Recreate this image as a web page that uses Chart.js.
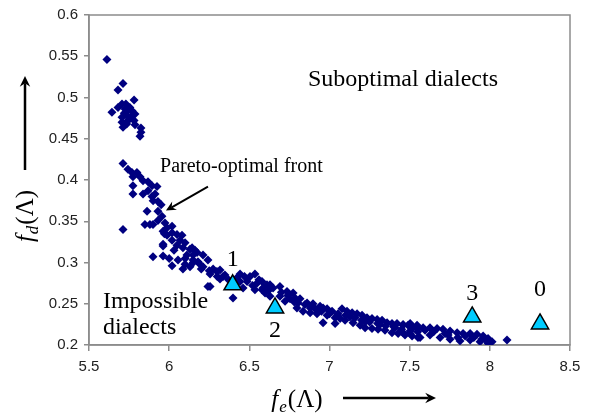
<!DOCTYPE html>
<html><head><meta charset="utf-8">
<script src="https://cdn.jsdelivr.net/npm/chart.js@4/dist/chart.umd.min.js"></script>
<style>html,body{margin:0;padding:0;background:#fff}#wrap{width:595px;height:418px}</style>
</head><body><div id="wrap"><canvas id="c" width="595" height="418"></canvas></div>
<script>
const xTicks=[5.5,6,6.5,7,7.5,8,8.5];
const yTicks=[0.2,0.25,0.3,0.35,0.4,0.45,0.5,0.55,0.6];
// simulated dialects (diamonds)
const dialectX=[
5.612,5.712,5.681,5.781,5.706,5.681,5.643,5.725,5.743,5.768,5.737,5.768,5.787,5.706,5.706,5.743,5.781,5.712,5.787,5.824,5.824,5.818,5.730,5.755,5.720,5.760,5.735,
5.712,5.743,5.768,5.799,5.818,5.774,5.837,5.868,5.893,5.924,5.774,5.774,5.837,5.868,5.912,5.893,5.930,5.862,5.930,5.955,5.930,5.974,5.849,5.880,5.899,5.987,5.712,5.962,6.018,6.018,6.049,5.987,5.962,6.018,6.068,6.049,6.086,6.130,6.161,
5.899,5.962,5.962,6.018,6.055,6.086,6.130,6.149,6.180,6.211,6.255,6.255,6.298,6.317,6.348,6.442,6.486,6.548,6.585,6.629,
6.080,6.099,6.143,6.174,6.211,6.111,6.149,6.099,6.192,6.242,6.274,6.317,6.336,6.242,6.442,6.461,6.398,6.579,6.610,6.648,6.579,6.691,6.735,6.773,6.629,6.691,6.754,6.804,6.504,6.535,6.723,6.598,6.535,
6.785,6.816,6.860,6.897,6.941,6.960,6.985,7.016,7.078,7.109,7.141,7.172,7.203,7.234,7.265,7.297,7.328,7.359,7.390,7.421,7.459,7.490,7.521,7.552,
6.797,6.835,6.879,6.922,6.985,7.035,7.066,7.097,7.147,7.191,7.222,7.265,7.303,7.346,7.390,7.428,7.471,7.515,7.552,6.960,7.035,
6.847,6.929,7.053,7.128,7.222,7.315,7.409,7.502,
7.459,7.503,7.546,7.584,7.627,7.671,7.708,7.752,7.796,7.833,7.877,7.920,7.958,7.989,8.014,
7.459,7.503,7.565,7.627,7.690,7.752,7.814,7.877,7.939,7.989,8.107,
7.596,7.721,7.846,7.971,
6.30,6.37,6.42,6.47,6.52,6.56,6.62,6.70,6.74,6.78,6.88,6.91,6.95,7.00,7.05,7.10,7.16,7.20,7.25,7.30,7.35,7.40,7.45,7.55,7.65,7.74,7.80,7.90,7.95,
5.95,5.90,5.97,6.03,6.10,6.15,6.20,6.25,6.00];
const dialectY=[
0.546,0.517,0.509,0.497,0.492,0.488,0.482,0.486,0.484,0.484,0.478,0.478,0.480,0.476,0.470,0.472,0.472,0.464,0.467,0.463,0.458,0.453,0.492,0.488,0.481,0.475,0.468,
0.420,0.413,0.409,0.409,0.404,0.404,0.399,0.398,0.393,0.392,0.393,0.383,0.383,0.387,0.383,0.380,0.374,0.362,0.362,0.356,0.351,0.348,0.346,0.346,0.346,0.342,0.340,0.338,0.344,0.336,0.334,0.333,0.322,0.327,0.327,0.321,0.318,0.316,0.315,
0.307,0.308,0.320,0.296,0.303,0.292,0.295,0.309,0.301,0.295,0.286,0.271,0.289,0.280,0.285,0.286,0.277,0.275,0.269,0.273,
0.333,0.324,0.318,0.312,0.309,0.309,0.303,0.298,0.298,0.303,0.292,0.291,0.283,0.271,0.277,0.269,0.257,0.277,0.273,0.269,0.267,0.271,0.265,0.263,0.259,0.259,0.256,0.251,0.283,0.267,0.253,0.263,0.286,
0.257,0.256,0.251,0.250,0.247,0.245,0.244,0.241,0.244,0.241,0.239,0.238,0.236,0.233,0.232,0.231,0.230,0.227,0.226,0.226,0.225,0.224,0.221,0.220,
0.245,0.241,0.239,0.238,0.236,0.233,0.232,0.230,0.227,0.224,0.221,0.220,0.219,0.218,0.215,0.214,0.212,0.211,0.209,0.227,0.226,
0.249,0.243,0.238,0.234,0.228,0.225,0.221,0.217,
0.224,0.226,0.224,0.221,0.221,0.220,0.219,0.217,0.215,0.214,0.214,0.213,0.211,0.208,0.204,
0.215,0.214,0.209,0.212,0.209,0.207,0.205,0.206,0.204,0.202,0.206,
0.218,0.214,0.211,0.207,
0.283,0.279,0.281,0.283,0.272,0.279,0.266,0.264,0.260,0.252,0.245,0.244,0.241,0.238,0.236,0.236,0.233,0.230,0.228,0.226,0.223,0.222,0.219,0.216,0.216,0.212,0.209,0.209,0.207,
0.370,0.375,0.335,0.315,0.305,0.300,0.292,0.290,0.305];
// labelled dialects (triangles)
const namedX=[8.313,6.396,6.66,7.89];
const namedY=[0.2255,0.273,0.245,0.234];
const namedLabels=['0','1','2','3'];

const SERIF='"Liberation Serif","Times New Roman",serif';
const labelOffsets=[-34,-25,23,-23];

function drawMath(ctx,x,y,sub){
  ctx.save();
  ctx.textBaseline='alphabetic';
  const fBig='italic 25px '+SERIF, fSub='italic 17px '+SERIF, fN='25px '+SERIF;
  ctx.font=fBig; const w1=ctx.measureText('f').width+1;
  ctx.font=fSub; const w2=ctx.measureText(sub).width+1;
  ctx.font=fN; const w3=ctx.measureText('(Λ)').width;
  let sx=x-(w1+w2+w3)/2;
  ctx.fillStyle='#000';
  ctx.font=fBig; ctx.fillText('f',sx,y); sx+=w1;
  ctx.font=fSub; ctx.fillText(sub,sx,y+5); sx+=w2;
  ctx.font=fN; ctx.fillText('(Λ)',sx,y);
  ctx.restore();
}
function arrow(ctx,x1,y1,x2,y2,head,lw){
  ctx.save();
  ctx.strokeStyle='#000';ctx.fillStyle='#000';ctx.lineWidth=lw;
  const a=Math.atan2(y2-y1,x2-x1);
  ctx.beginPath();ctx.moveTo(x1,y1);ctx.lineTo(x2-Math.cos(a)*head*0.6,y2-Math.sin(a)*head*0.6);ctx.stroke();
  ctx.beginPath();
  ctx.moveTo(x2,y2);
  ctx.lineTo(x2-head*Math.cos(a-0.45),y2-head*Math.sin(a-0.45));
  ctx.lineTo(x2-head*0.6*Math.cos(a),y2-head*0.6*Math.sin(a));
  ctx.lineTo(x2-head*Math.cos(a+0.45),y2-head*Math.sin(a+0.45));
  ctx.closePath();ctx.fill();
  ctx.restore();
}

const decor={
  id:'decor',
  beforeDatasetsDraw(chart){
    const {ctx,chartArea:a}=chart;
    ctx.save();
    ctx.strokeStyle='#8c8c8c';ctx.lineWidth=1.5;
    ctx.strokeRect(a.left,a.top,a.right-a.left,a.bottom-a.top);
    ctx.restore();
  },
  afterDatasetsDraw(chart){
    const {ctx,scales:{x,y}}=chart;
    ctx.save();
    ctx.fillStyle='#000';
    ctx.textBaseline='middle';ctx.textAlign='left';
    ctx.font='24px '+SERIF;
    ctx.fillText('Suboptimal dialects',x.getPixelForValue(6.866),y.getPixelForValue(0.521));
    ctx.fillText('Impossible',x.getPixelForValue(5.587),y.getPixelForValue(0.253));
    ctx.fillText('dialects',x.getPixelForValue(5.587),y.getPixelForValue(0.221));
    ctx.font='20px '+SERIF;
    ctx.fillText('Pareto-optimal front',x.getPixelForValue(5.943),y.getPixelForValue(0.4166));
    arrow(ctx,x.getPixelForValue(6.242),y.getPixelForValue(0.392),x.getPixelForValue(5.98),y.getPixelForValue(0.363),11,2);
    ctx.textAlign='center';
    ctx.font='24px '+SERIF;
    namedLabels.forEach((t,i)=>{
      ctx.fillText(t,x.getPixelForValue(namedX[i]),y.getPixelForValue(namedY[i])+labelOffsets[i]);
    });
    ctx.restore();
    // axis titles
    drawMath(ctx,297,407,'e');
    arrow(ctx,343,398,436,398,12,2.5);
    ctx.save();
    ctx.translate(33,216);ctx.rotate(-Math.PI/2);
    drawMath(ctx,0,0,'d');
    ctx.restore();
    arrow(ctx,25,170,25,76,12,2.5);
  }
};

new Chart(document.getElementById('c'),{
  type:'scatter',
  data:{datasets:[
    {label:'labelled',data:namedX.map((v,i)=>({x:v,y:namedY[i]})),pointStyle:'triangle',radius:10,hoverRadius:10,backgroundColor:'#00CCFF',borderColor:'#000',borderWidth:1.5,order:0},
    {label:'dialects',data:dialectX.map((v,i)=>({x:v,y:dialectY[i]})),pointStyle:'rectRot',radius:4.5,hoverRadius:4.5,backgroundColor:'#000080',borderColor:'#000080',borderWidth:0,order:1}
  ]},
  options:{
    responsive:false,animation:false,
    events:[],
    layout:{padding:{top:7,right:25,left:0,bottom:0}},
    plugins:{legend:{display:false},tooltip:{enabled:false}},
    scales:{
      x:{type:'linear',min:5.5,max:8.5,
        afterBuildTicks:s=>{s.ticks=xTicks.map(v=>({value:v}));},
        afterFit:s=>{s.height=73;},
        grid:{drawOnChartArea:false,drawTicks:true,tickLength:6,color:'#8c8c8c',lineWidth:1.5},
        border:{color:'#8c8c8c',width:1.5},
        ticks:{font:{family:'"Liberation Sans",Arial,sans-serif',size:15},color:'#222',padding:7,maxRotation:0,callback:v=>String(v)}
      },
      y:{type:'linear',min:0.2,max:0.6,
        afterBuildTicks:s=>{s.ticks=yTicks.map(v=>({value:v}));},
        afterFit:s=>{s.width=89;},
        grid:{drawOnChartArea:false,drawTicks:true,tickLength:5,color:'#8c8c8c',lineWidth:1.5},
        border:{color:'#8c8c8c',width:1.5},
        ticks:{font:{family:'"Liberation Sans",Arial,sans-serif',size:15},color:'#222',padding:6,callback:v=>String(v)}
      }
    }
  },
  plugins:[decor]
});
</script></body></html>
